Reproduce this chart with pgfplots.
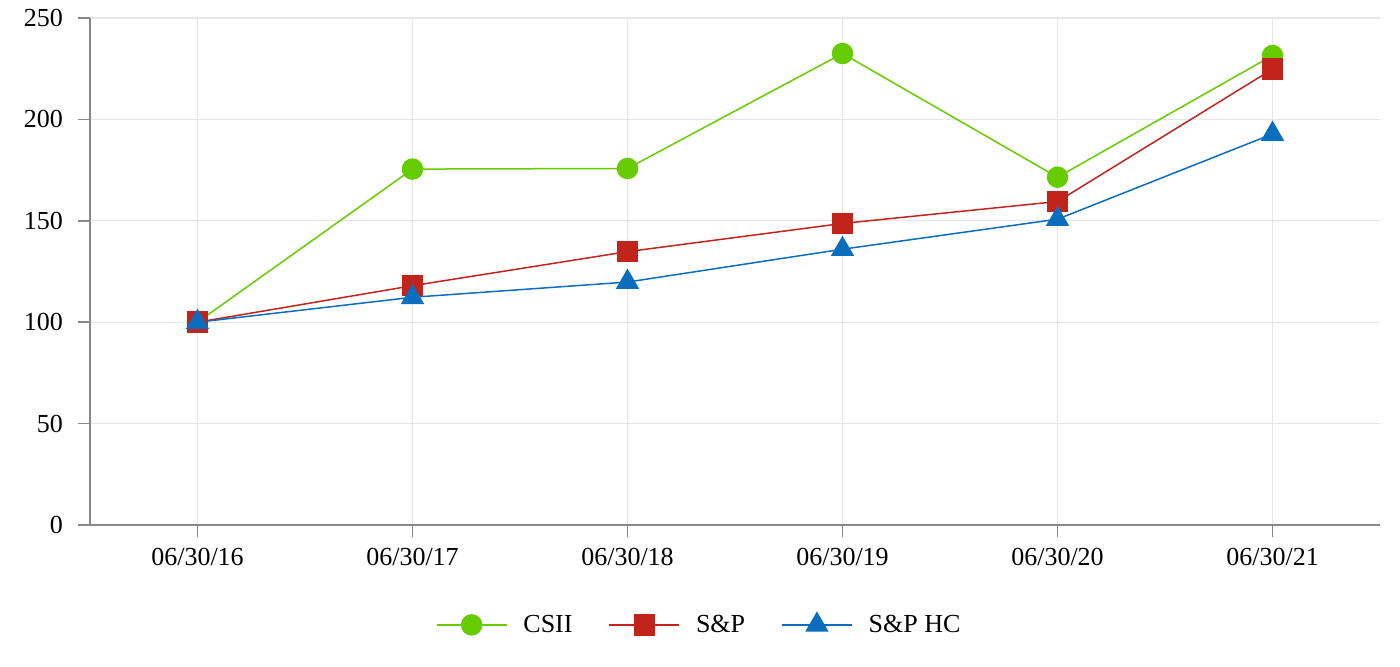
\documentclass[border=0pt]{standalone}
\usepackage{pgfplots}
\pgfplotsset{compat=1.18}
\usepackage{fontspec}
\setmainfont{Liberation Serif}
\definecolor{cgreen}{HTML}{66CC00}
\definecolor{cred}{HTML}{C0241A}
\definecolor{cblue}{HTML}{0A6DBE}
\definecolor{gridc}{HTML}{E6E6E6}
\definecolor{axc}{HTML}{888888}
\begin{document}
\begin{tikzpicture}
\useasboundingbox (-45pt,-70.5pt) rectangle (655pt,262.5pt);
\begin{axis}[
  at={(0,0)}, anchor=south west,
  scale only axis, width=645pt, height=253.5pt,
  xmin=-0.5, xmax=5.5, ymin=0, ymax=250,
  xtick={0,1,2,3,4,5},
  xticklabels={06/30/16,06/30/17,06/30/18,06/30/19,06/30/20,06/30/21},
  ytick={0,50,100,150,200,250},
  axis x line*=bottom, axis y line*=left,
  axis line style={axc, line width=0.8pt, -},
  grid=major, major grid style={gridc, line width=0.6pt},
  tick style={axc, line width=0.8pt},
  tick align=outside, major tick length=6pt,
  ticklabel style={font=\fontsize{13}{15}\selectfont},
  /pgf/number format/assume math mode=true,
  xticklabel style={yshift=-2pt},
  yticklabel style={xshift=-4pt},
  clip=false,
  legend columns=3,
  legend style={at={(axis description cs:0.473,-0.197)}, anchor=center, draw=none, font=\fontsize{13}{15}\selectfont,
    /tikz/column sep=0pt,
    /tikz/every odd column/.append style={column sep=6pt},
    /tikz/every even column/.append style={column sep=16pt}},
  legend image code/.code={\draw[#1] (0pt,0pt) -- (35pt,0pt); \draw[#1, mark repeat=1] plot coordinates {(17.5pt,0pt)};},
]
\addplot[cgreen, line width=0.75pt, mark=*, mark size=5pt, mark options={fill=cgreen, draw=cgreen}] coordinates {(0,100) (1,175.5) (2,175.8) (3,232.5) (4,171.5) (5,231.5)};
\addlegendentry{CSII}
\addplot[cred, line width=0.75pt, mark=square*, mark size=5pt, mark options={fill=cred, draw=cred}] coordinates {(0,100) (1,118) (2,134.8) (3,148.7) (4,159.5) (5,224.8)};
\addlegendentry{S\&P}
\addplot[cblue, line width=0.75pt, mark=triangle*, mark size=6pt, mark options={fill=cblue, draw=cblue}] coordinates {(0,100) (1,112.3) (2,119.8) (3,136) (4,150.8) (5,192.8)};
\addlegendentry{S\&P HC}
\end{axis}
\end{tikzpicture}
\end{document}
